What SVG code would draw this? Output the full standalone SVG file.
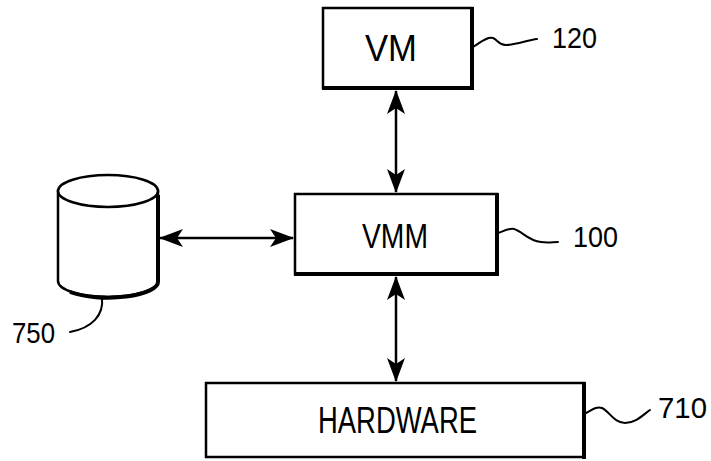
<svg xmlns="http://www.w3.org/2000/svg" width="711" height="461" viewBox="0 0 711 461">
<style>
.box{fill:#fff;stroke:#000;stroke-width:2.5}
.shadow{fill:none;stroke:#000;stroke-width:4;stroke-linecap:square}
.lbl{font-family:"Liberation Sans",Arial,sans-serif;fill:#000}
.lead{fill:none;stroke:#000;stroke-width:2;stroke-linecap:round}
.conn{stroke:#000;stroke-width:2.5;fill:none}
</style>
<defs>
<marker id="ah" viewBox="0 0 24 18" refX="23" refY="9" markerWidth="24" markerHeight="18" markerUnits="userSpaceOnUse" orient="auto-start-reverse">
<path d="M0,0 L24,9 L0,18 L6,9 Z" fill="#000"/>
</marker>
</defs>
<g id="connectors">
<line class="conn" x1="396" y1="91" x2="396" y2="192" marker-start="url(#ah)" marker-end="url(#ah)"/>
<line class="conn" x1="396" y1="277" x2="396" y2="381" marker-start="url(#ah)" marker-end="url(#ah)"/>
<line class="conn" x1="160" y1="238" x2="293" y2="238" marker-start="url(#ah)" marker-end="url(#ah)"/>
</g>
<g id="vm">
<rect class="box" x="323" y="8" width="149" height="80"/>
<path class="shadow" d="M472,9 L472,88 L324,88"/>
<text class="lbl" x="365" y="61" font-size="36" textLength="52" lengthAdjust="spacingAndGlyphs">VM</text>
<path class="lead" d="M473,47 C480,43 487,36 493,38 C498,40 499,46 507,45 C518,44 528,40 537,39"/>
<text class="lbl" x="552" y="48" font-size="30" textLength="45" lengthAdjust="spacingAndGlyphs">120</text>
</g>
<g id="vmm">
<rect class="box" x="295" y="194" width="202" height="80"/>
<path class="shadow" d="M497,195 L497,274 L296,274"/>
<text class="lbl" x="362" y="248" font-size="35" textLength="66" lengthAdjust="spacingAndGlyphs">VMM</text>
<path class="lead" d="M498,233 C504,231 509,228 514,229 C522,231 528,241 541,242 C548,243 553,242 558,242"/>
<text class="lbl" x="573" y="247" font-size="30" textLength="45" lengthAdjust="spacingAndGlyphs">100</text>
</g>
<g id="hardware">
<rect class="box" x="206" y="383" width="378" height="74"/>
<path class="shadow" d="M584,384 L584,457"/>
<text class="lbl" x="318" y="433" font-size="36" textLength="159" lengthAdjust="spacingAndGlyphs">HARDWARE</text>
<path class="lead" d="M586,413 C592,410 596,406 602,408 C609,411 614,423 625,423 C636,423 644,414 650,410"/>
<text class="lbl" x="658" y="418" font-size="30" textLength="49" lengthAdjust="spacingAndGlyphs">710</text>
</g>
<g id="storage">
<path d="M58,191 L58,281 A50,16 0 0 0 158,281 L158,191 Z" fill="#fff" stroke="#000" stroke-width="2.5"/>
<ellipse cx="108" cy="191" rx="50" ry="16" fill="#fff" stroke="#000" stroke-width="2.5"/>
<path d="M158,195 L158,281 A50,16 0 0 1 70,292" fill="none" stroke="#000" stroke-width="4"/>
<path class="lead" d="M102,298 C104,315 92,328 70,332"/>
<text class="lbl" x="12" y="343" font-size="30" textLength="43" lengthAdjust="spacingAndGlyphs">750</text>
</g>
</svg>
